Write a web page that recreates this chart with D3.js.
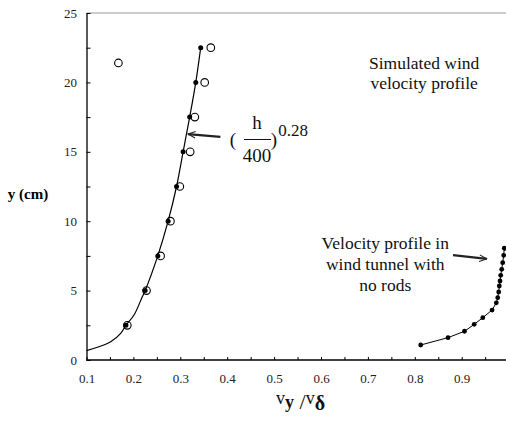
<!DOCTYPE html>
<html>
<head>
<meta charset="UTF-8">
<title>Wind velocity profile</title>
<script src="https://d3js.org/d3.v7.min.js"></script>
<style>
  body { margin: 0; background: #fff; }
</style>
</head>
<body>
<script>
// heights (cm) and normalised velocities
var hFilled = [2.5, 5, 7.5, 10, 12.5, 15, 17.5, 20, 22.5];
var vFilled = [0.184, 0.225, 0.252, 0.274, 0.292, 0.306, 0.320, 0.333, 0.3435];

var hOpen = [2.5, 5, 7.5, 10, 12.5, 15, 17.5, 20, 21.4, 22.5];
var vOpen = [0.187, 0.228, 0.258, 0.279, 0.299, 0.321, 0.331, 0.352, 0.168, 0.365];

// power-law fit curve (h/400)^0.28
var fitH = [0.68, 0.92, 1.32, 1.92, 2.5, 3.24, 4.56, 5, 7.5, 10, 12.5, 15, 17.5, 20, 22.5];
var fitV = [0.1, 0.123, 0.1516, 0.1729, 0.184, 0.2013, 0.219, 0.225, 0.252, 0.274, 0.292, 0.306, 0.320, 0.333, 0.3435];

// wind tunnel, no rods
var tunnelH = [1.08, 1.61, 2.07, 2.57, 3.05, 3.60, 4.12, 4.49, 4.90, 5.33, 5.69, 6.10, 6.53, 7.01, 7.54, 8.05];
var tunnelV = [0.8126, 0.8708, 0.906, 0.9267, 0.945, 0.9648, 0.9738, 0.9768, 0.9789, 0.9802, 0.9817, 0.9832, 0.9853, 0.9874, 0.9895, 0.9908];

var xTicks = [0.1, 0.2, 0.3, 0.4, 0.5, 0.6, 0.7, 0.8, 0.9, 1];
var yTicks = [0, 5, 10, 15, 20, 25];

var W = 506, H = 422;
var SERIF = "Liberation Serif";

var x = d3.scaleLinear().domain([0.1, 1.0]).range([86.5, 508.6]);
var y = d3.scaleLinear().domain([0, 25]).range([360, 13]);

var svg = d3.select("body").append("svg")
    .attr("width", W).attr("height", H);

svg.append("defs").append("marker")
    .attr("id", "head")
    .attr("viewBox", "-11 -6 12 12")
    .attr("refX", 0).attr("refY", 0)
    .attr("markerWidth", 4).attr("markerHeight", 4)
    .attr("markerUnits", "strokeWidth")
    .attr("orient", "auto")
    .append("path")
    .attr("d", "M-10,-4.5 L0,0 L-10,4.5")
    .attr("fill", "none")
    .attr("stroke", "#222")
    .attr("stroke-width", 1.4);

// top frame line
svg.append("line")
    .attr("x1", x(0.1)).attr("x2", W)
    .attr("y1", y(25)).attr("y2", y(25))
    .attr("stroke", "#999").attr("stroke-width", 1);

// axes
var xAxis = d3.axisBottom(x).tickValues(d3.range(0.1, 1.001, 0.05))
    .tickSizeInner(-3).tickSizeOuter(0).tickPadding(14)
    .tickFormat(function(d){
        var r = Math.round(d * 100) / 100;
        return xTicks.indexOf(r) >= 0 ? d3.format("~g")(r) : "";
    });
var gx = svg.append("g").attr("transform", "translate(0," + y(0) + ")").call(xAxis);
gx.select(".domain").attr("stroke-width", 1.5).attr("d", "M" + x(0.1) + ",0H" + W);
gx.selectAll(".tick line").attr("stroke-width", 1);
gx.selectAll("text").attr("font-family", SERIF).attr("font-size", 13).attr("fill", "#222");

var yAxis = d3.axisLeft(y).tickValues(d3.range(0, 25.01, 2.5))
    .tickSizeInner(-4).tickSizeOuter(0).tickPadding(9.5)
    .tickFormat(function(d){ return yTicks.indexOf(d) >= 0 ? d : ""; });
var gy = svg.append("g").attr("transform", "translate(" + x(0.1) + ",0)").call(yAxis);
gy.select(".domain").attr("stroke-width", 1.3);
gy.selectAll("text").attr("font-family", SERIF).attr("font-size", 13).attr("fill", "#222");

// fit curve
var fit = fitH.map(function(h, i){ return [fitV[i], h]; });
svg.append("path")
    .datum(fit)
    .attr("fill", "none").attr("stroke", "#000").attr("stroke-width", 1.2)
    .attr("d", d3.line().x(function(d){return x(d[0]);}).y(function(d){return y(d[1]);})
        .curve(d3.curveCatmullRom.alpha(0.5)));

// open circles
svg.selectAll("circle.open")
    .data(hOpen)
    .enter().append("circle")
    .attr("class", "open")
    .attr("cx", function(d, i){ return x(vOpen[i]); })
    .attr("cy", function(d){ return y(d); })
    .attr("r", 3.8)
    .attr("fill", "none").attr("stroke", "#000").attr("stroke-width", 1.1);

// filled dots
svg.selectAll("circle.fill")
    .data(hFilled)
    .enter().append("circle")
    .attr("class", "fill")
    .attr("cx", function(d, i){ return x(vFilled[i]); })
    .attr("cy", function(d){ return y(d); })
    .attr("r", 2.5)
    .attr("fill", "#000");

// wind tunnel profile
var tun = tunnelH.map(function(h, i){ return [tunnelV[i], h]; });
svg.append("path")
    .datum(tun)
    .attr("fill", "none").attr("stroke", "#000").attr("stroke-width", 1)
    .attr("d", d3.line().x(function(d){return x(d[0]);}).y(function(d){return y(d[1]);}));
svg.selectAll("circle.tun")
    .data(tun)
    .enter().append("circle")
    .attr("class", "tun")
    .attr("cx", function(d){ return x(d[0]); })
    .attr("cy", function(d){ return y(d[1]); })
    .attr("r", 2.4)
    .attr("fill", "#000");

// axis titles
svg.append("text")
    .attr("font-family", SERIF)
    .attr("x", 28).attr("y", 199)
    .attr("text-anchor", "middle")
    .attr("font-size", 15).attr("font-weight", "bold")
    .text("y (cm)");

var xt = svg.append("text")
    .attr("font-family", SERIF)
    .attr("x", 276).attr("y", 404)
    .attr("font-size", 18).attr("fill", "#111");
xt.append("tspan").text("v");
xt.append("tspan").attr("font-weight", "bold").attr("font-size", 18).attr("dy", 4).text("y");
xt.append("tspan").attr("font-size", 22).attr("dy", 1).text(" /");
xt.append("tspan").attr("dy", -5).text("v");
xt.append("tspan").attr("font-weight", "bold").attr("font-size", 20).attr("dy", 6).text("δ");

// annotations
function label(px, py, txt, size){
    svg.append("text")
        .attr("font-family", SERIF)
        .attr("font-size", size || 17.5)
        .attr("fill", "#111")
        .attr("text-anchor", "middle")
        .attr("x", px).attr("y", py)
        .text(txt);
}
label(x(0.82), 69, "Simulated wind");
label(x(0.82), 89, "velocity profile");
label(x(0.737), 249, "Velocity profile in");
label(x(0.737), 270, "wind tunnel with");
label(x(0.737), 291, "no rods");

// formula (h/400)^0.28
label(233, 146, "(", 19);
label(257, 129, "h", 19);
svg.append("line").attr("x1", 244).attr("x2", 271).attr("y1", 139.5).attr("y2", 139.5)
    .attr("stroke", "#111").attr("stroke-width", 1);
label(257, 162, "400", 19);
label(274, 146, ")", 19);
label(293, 136, "0.28", 17);

// arrows
function arrow(x1, y1, x2, y2){
    svg.append("line")
        .attr("x1", x(x1)).attr("y1", y(y1))
        .attr("x2", x(x2)).attr("y2", y(y2))
        .attr("stroke", "#222").attr("stroke-width", 2.2)
        .attr("marker-end", "url(#head)");
}
arrow(0.3855, 16.07, 0.3165, 16.28);
arrow(0.8815, 7.56, 0.9535, 7.28);
</script>
</body>
</html>
